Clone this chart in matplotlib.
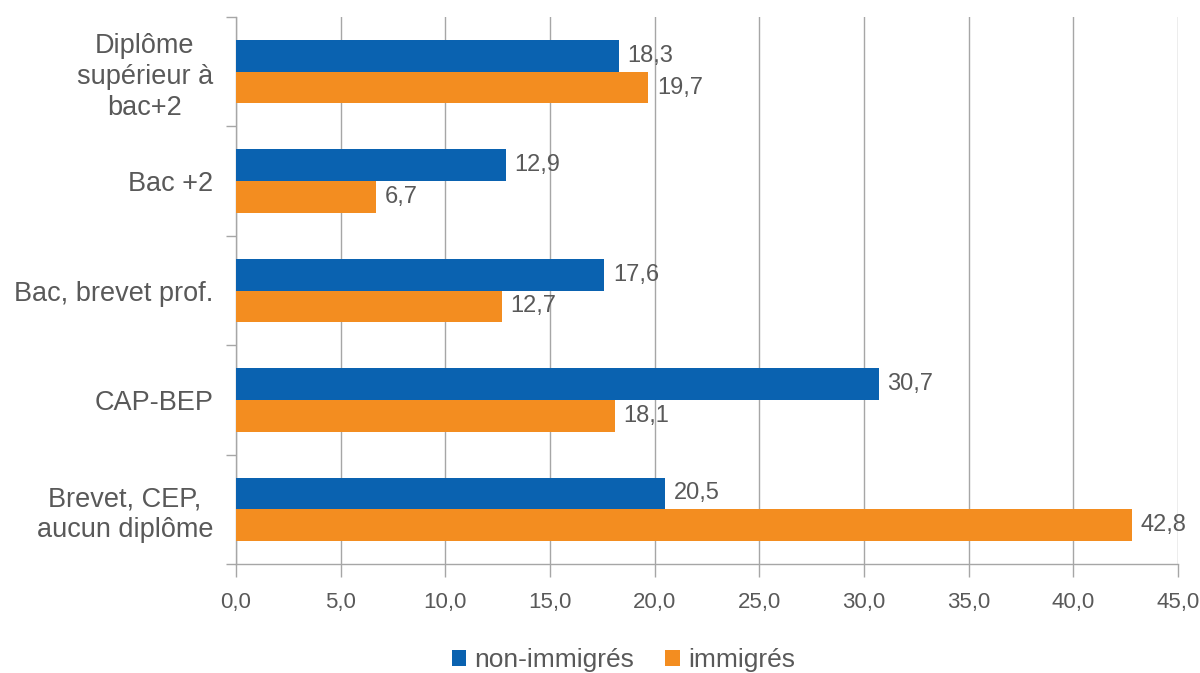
import numpy as np
import matplotlib.pyplot as plt

plt.rcParams['font.family'] = ['Liberation Sans', 'DejaVu Sans']

# categories, from top to bottom
categories = ["Diplôme\nsupérieur à\nbac+2", "Bac +2", "Bac, brevet prof.",
              "CAP-BEP", "Brevet, CEP,\naucun diplôme"]
non_immigres = [18.3, 12.9, 17.6, 30.7, 20.5]
immigres = [19.7, 6.7, 12.7, 18.1, 42.8]
xticks = [0, 5, 10, 15, 20, 25, 30, 35, 40, 45]

blue = '#0a62b0'
orange = '#f38d20'
gris_txt = '#595959'
gris_ligne = '#a6a6a6'

fig = plt.figure(figsize=(12, 6.73), dpi=100)
ax = fig.add_axes([0.1967, 0.162, 0.785, 0.8127])

y = np.arange(len(categories))
h = 0.29
b1 = ax.barh(y - h / 2, non_immigres, height=h, color=blue, label='non-immigrés', zorder=3)
b2 = ax.barh(y + h / 2, immigres, height=h, color=orange, label='immigrés', zorder=3)

for bars, vals in [(b1, non_immigres), (b2, immigres)]:
    for r, v in zip(bars, vals):
        ax.text(v + 0.4, r.get_y() + r.get_height() / 2, f"{v:.1f}".replace('.', ','),
                va='center', ha='left', fontsize=17, color=gris_txt, zorder=4)

ax.set_ylim(len(categories) - 0.5, -0.5)
ax.set_xlim(0, 45)
ax.set_xticks(xticks)
ax.set_xticklabels([f"{t:.1f}".replace('.', ',') for t in xticks], fontsize=16, color=gris_txt)
ax.tick_params(axis='x', length=9, width=1, color=gris_ligne, pad=11)

# ticks aux limites des catégories, libellés au centre
ax.set_yticks(np.arange(-0.5, len(categories), 1))
ax.set_yticklabels([])
ax.set_yticks(y, minor=True)
ax.set_yticklabels(categories, minor=True, fontsize=19.5, color=gris_txt,
                   multialignment='center', linespacing=1.24)
ax.tick_params(axis='y', which='major', length=7, width=1, color=gris_ligne)
ax.tick_params(axis='y', which='minor', length=0, pad=16.5)

ax.grid(axis='x', color=gris_ligne, linewidth=1, zorder=0)
for s in ['top', 'right']:
    ax.spines[s].set_visible(False)
for s in ['left', 'bottom']:
    ax.spines[s].set_color(gris_ligne)
    ax.spines[s].set_linewidth(1)

leg = ax.legend(loc='center', bbox_to_anchor=(0.411, -0.176), ncol=2, frameon=False,
                fontsize=19, handlelength=0.55, handleheight=0.55, handletextpad=0.3,
                columnspacing=1.2, borderpad=0)
for t in leg.get_texts():
    t.set_color(gris_txt)

fig.savefig('out.png', dpi=100)
